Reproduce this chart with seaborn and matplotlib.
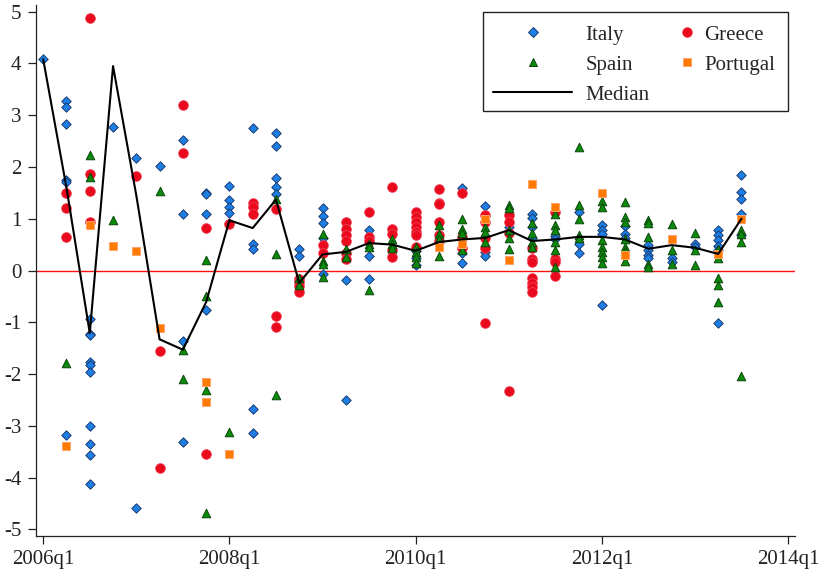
import matplotlib
matplotlib.use("Agg")
import matplotlib.pyplot as plt
import numpy as np
import pandas as pd
import seaborn as sns
from matplotlib.patches import Rectangle
from matplotlib.lines import Line2D

# ---------------- data (quarter index 0 = 2006q1) ----------------
italy = [
    [4.08],
    [3.28, 3.15, 2.83, 1.74, 1.71, -3.18],
    [-0.93, -1.22, -1.24, -1.77, -1.82, -1.97, -3.00, -3.35, -3.56, -4.12],
    [2.78],
    [2.17, -4.59],
    [2.01],
    [2.52, 1.10, -1.36, -3.32],
    [1.50, 1.47, 1.10, -0.77],
    [1.63, 1.37, 1.23, 1.11, 0.91],
    [2.76, 0.52, 0.41, -2.68, -3.14],
    [2.65, 2.40, 1.79, 1.61, 1.48],
    [0.41, 0.28],
    [1.20, 1.05, 0.92, 0.62, -0.07],
    [0.31, -0.19, -2.51],
    [0.78, 0.28, -0.17],
    [],
    [0.38, 0.25, 0.11],
    [],
    [1.60, 0.33, 0.15],
    [1.25, 0.36, 0.28],
    [0.85],
    [1.10, 1.02, 0.85, 0.62],
    [0.66, 0.60],
    [1.13, 0.52, 0.33],
    [0.88, 0.78, 0.70, -0.67],
    [0.86, 0.71, 0.62],
    [0.49, 0.39, 0.30, 0.25],
    [0.24, 0.17],
    [0.52, 0.46],
    [0.78, 0.68, 0.58, 0.48, 0.40, -1.01],
    [1.85, 1.52, 1.39, 1.10, 0.68],
]
greece = [
    [],
    [1.50, 1.21, 0.64],
    [4.87, 1.86, 1.53, 0.94],
    [],
    [1.83],
    [-1.55, -3.82],
    [3.20, 2.27],
    [0.82, -3.54],
    [0.89],
    [1.31, 1.23, 1.10],
    [1.18, -0.88, -1.09],
    [-0.17, -0.22, -0.30, -0.41],
    [0.50, 0.33],
    [0.94, 0.80, 0.68, 0.57, 0.33, 0.23],
    [1.13, 0.65, 0.57],
    [1.62, 0.80, 0.70, 0.40, 0.26],
    [1.13, 1.04, 0.94, 0.84, 0.75, 0.68, 0.46],
    [1.57, 1.31, 1.28, 0.94, 0.68, 0.57],
    [1.50, 0.65, 0.43],
    [1.07, 0.94, 0.62, 0.43, -1.01],
    [1.07, 0.94, 0.72, -2.33],
    [0.43, 0.23, 0.17, -0.15, -0.24, -0.32, -0.41],
    [1.13, 0.23, 0.17, -0.10],
    [], [], [], [], [], [], [], [],
]
spain = [
    [],
    [-1.78],
    [2.23, 1.81],
    [0.97],
    [],
    [1.54],
    [-1.54, -2.09],
    [0.20, -0.49, -2.31, -4.68],
    [-3.13],
    [],
    [1.39, 0.31, -2.41],
    [-0.14, -0.28],
    [0.71, 0.18, 0.13, -0.12],
    [0.42, 0.26],
    [0.51, 0.45, -0.38],
    [0.60, 0.52, 0.44],
    [0.46, 0.36, 0.26, 0.14],
    [0.88, 0.71, 0.61, 0.28],
    [1.00, 0.80, 0.73, 0.39],
    [0.84, 0.75, 0.55],
    [1.27, 1.20, 0.78, 0.62, 0.42],
    [0.91, 0.73, 0.55, 0.46],
    [1.10, 0.88, 0.78, 0.55, 0.39, 0.07],
    [2.39, 1.26, 1.00, 0.68, 0.62],
    [1.34, 1.23, 0.59, 0.46, 0.36, 0.26, 0.15],
    [1.33, 1.04, 0.94, 0.61, 0.46, 0.38, 0.19],
    [0.97, 0.92, 0.64, 0.13, 0.06],
    [0.89, 0.39, 0.12],
    [0.73, 0.39, 0.10],
    [0.42, 0.24, -0.15, -0.28, -0.61],
    [0.79, 0.71, 0.55, -2.04],
]
portugal = [
    [], [-3.40], [0.87], [0.48], [0.38], [-1.12], [], [-2.15, -2.55],
    [-3.54], [], [], [], [], [], [], [], [], [0.46], [0.51], [1.00],
    [0.21], [1.67], [1.23], [], [1.49], [0.30], [], [0.60], [], [0.32], [1.00],
]
median = [4.08, 1.60, -1.21, 3.95, 1.45, -1.33, -1.53, -0.61, 0.97, 0.82,
          1.37, -0.24, 0.31, 0.36, 0.53, 0.50, 0.38, 0.55, 0.60, 0.63,
          0.78, 0.57, 0.60, 0.65, 0.65, 0.60, 0.42, 0.49, 0.44, 0.32, 1.00]
tick_pos = [0, 8, 16, 24, 32]
tick_labels = ["2006q1", "2008q1", "2010q1", "2012q1", "2014q1"]
y_ticks = [-5, -4, -3, -2, -1, 0, 1, 2, 3, 4, 5]

# ---------------- build long table ----------------
rows = []
for name, series in [("Italy", italy), ("Greece", greece), ("Spain", spain), ("Portugal", portugal)]:
    for q, vals in enumerate(series):
        for v in vals:
            rows.append((name, q, v))
df = pd.DataFrame(rows, columns=["country", "q", "value"])
med = pd.DataFrame({"q": np.arange(len(median)), "value": median})

# ---------------- style ----------------
sns.set_theme(style="white")
plt.rcParams["font.family"] = ["Liberation Serif", "DejaVu Serif"]
plt.rcParams["axes.unicode_minus"] = False
FS = 15
INK = "#222222"

fig = plt.figure(figsize=(8.21, 5.76), dpi=100)
W, H = 821, 576
ax = fig.add_axes([36 / W, 1 - 536 / H, (795 - 36) / W, (536 - 5) / H])

styles = {
    "Italy":    dict(marker="D", s=23, color="#1C7FE6", edgecolor="#1B3A70", linewidth=0.7),
    "Greece":   dict(marker="o", s=50, color="#EA0A1E", edgecolor="#F04A5A", linewidth=0.5),
    "Spain":    dict(marker="^", s=38, color="#0B8A0B", edgecolor="#0A460A", linewidth=0.7),
    "Portugal": dict(marker="s", s=30, color="#FF7A00", edgecolor="#FFA36A", linewidth=0.7),
}

ax.axhline(0, color="#FF1010", lw=1.0, zorder=1)
for name in ["Italy", "Greece", "Spain", "Portugal"]:
    sns.scatterplot(data=df[df.country == name], x="q", y="value", ax=ax,
                    legend=False, zorder=3, **styles[name])
sns.lineplot(data=med, x="q", y="value", ax=ax, color="black", lw=1.5,
             zorder=4, legend=False)

ax.set_xlim(-0.31, 32.3)
ax.set_ylim(-5.13, 5.13)
ax.set_xticks(tick_pos)
ax.set_xticklabels(tick_labels)
ax.set_yticks(y_ticks)
ax.set_yticklabels([str(t) for t in y_ticks])
ax.set_xlabel("")
ax.set_ylabel("")
ax.tick_params(axis="both", direction="out", length=6, width=0.9, color=INK,
               labelsize=FS, labelcolor=INK, bottom=True, left=True)
ax.tick_params(axis="y", pad=4.5)
ax.tick_params(axis="x", pad=4)
for sp in ["top", "right"]:
    ax.spines[sp].set_visible(False)
for sp in ["left", "bottom"]:
    ax.spines[sp].set_color(INK)
    ax.spines[sp].set_linewidth(0.9)
ax.grid(False)

# ---------------- legend ----------------
frame = Rectangle((483 / W, 1 - 111 / H), (788 - 483) / W, (111 - 12) / H,
                  transform=fig.transFigure, facecolor="white",
                  edgecolor=INK, lw=1.0, zorder=10)
fig.patches.append(frame)

def mk(name):
    st = styles[name]
    return Line2D([], [], ls="", marker=st["marker"], markersize=np.sqrt(st["s"]),
                  markerfacecolor=st["color"], markeredgecolor=st["edgecolor"],
                  markeredgewidth=st["linewidth"])

fs_px = FS * 100 / 72
legA = fig.legend([mk("Italy"), mk("Spain"), Line2D([], [], color="black", lw=1.5)],
                  ["Italy", "Spain", "Median"], loc="upper left",
                  bbox_to_anchor=(493 / W, 1 - 25 / H), frameon=False,
                  borderpad=0, borderaxespad=0, handlelength=79 / fs_px,
                  handletextpad=13.7 / fs_px, labelspacing=0.5, fontsize=FS)
legB = fig.legend([mk("Greece"), mk("Portugal")], ["Greece", "Portugal"],
                  loc="upper left", bbox_to_anchor=((687 - 10) / W, 1 - 25 / H),
                  frameon=False, borderpad=0, borderaxespad=0, handlelength=20 / fs_px,
                  handletextpad=7 / fs_px, labelspacing=0.5, fontsize=FS)
legA.set_zorder(11)
legB.set_zorder(11)

fig.savefig("out.png", dpi=100)
